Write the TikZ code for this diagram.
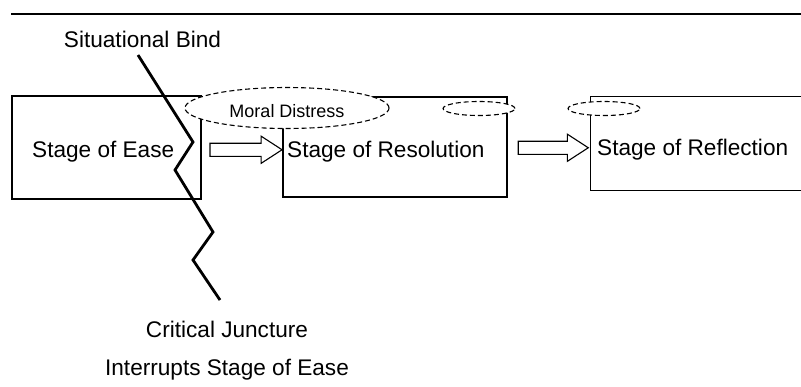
\documentclass[tikz,border=0pt]{standalone}
\usepackage{fontspec}
\setmainfont{Liberation Sans}
\usetikzlibrary{shapes.geometric,shapes.arrows,calc}
\begin{document}
\begin{tikzpicture}[x=1bp,y=-1bp,
  boxline/.style={line width=1.3bp},
  stagebox/.style={draw,boxline,rectangle,inner sep=0pt},
  stagetext/.style={inner sep=0pt,anchor=base west,font=\fontsize{22.6bp}{27bp}\selectfont},
  caption/.style={inner sep=0pt,anchor=base,font=\fontsize{22.6bp}{27bp}\selectfont},
  bubble/.style={ellipse,draw,fill=white,line width=1.1bp,dash pattern=on 5bp off 3bp,inner sep=0pt},
  blockarrow/.style={single arrow,draw,line width=1.1bp,inner xsep=0pt,inner ysep=6bp,
    single arrow head extend=7bp,single arrow tip angle=66},
  bind/.style={line width=2.8bp,line join=miter}]
\useasboundingbox (0,0) rectangle (801,386);
% top rule
\coordinate (r0) at (11,14);
\coordinate (r1) at (801,14);
\draw[line width=2bp] (r0) -- (r1);
% stage boxes
\node[stagebox,minimum width=189bp,minimum height=103bp] (b1) at (106.5,147.5) {};
\node[stagebox,minimum width=224bp,minimum height=100bp] (b2) at (395,147) {};
\node[inner sep=0pt,minimum width=210bp,minimum height=93bp] (b3) at (696,143.5) {};
\draw[boxline] (b3.north east) -- (b3.north west) -- (b3.south west) -- (b3.south east);
% stage texts
\node[stagetext] (t1) at (32,157) {Stage of Ease};
\node[stagetext] (t2) at (287,157) {Stage of Resolution};
\node[stagetext] (t3) at (597,155) {Stage of Reflection};
% block arrows
\node[blockarrow,minimum height=72bp] (a1) at ($($(b1.east)!0.5!(b2.west)$)+(-1,2.5)$) {};
\node[blockarrow,minimum height=70bp] (a2) at ($($(b2.east)!0.5!(b3.west)$)+(-1,2.5)$) {};
% ellipses
\node[bubble,minimum width=204bp,minimum height=41bp] (md) at (287,108) {};
\node[inner sep=0pt,anchor=base,font=\fontsize{18bp}{22bp}\selectfont] (mdt) at (287,117) {Moral Distress};
\node[bubble,minimum width=72bp,minimum height=14bp] (e2) at (479,108.5) {};
\node[bubble,minimum width=72bp,minimum height=14bp] (e3) at (604,108.5) {};
% situational bind / critical juncture
\node[caption] (sb) at (142.5,47) {Situational Bind};
\node[caption] (cj) at (227,337) {Critical Juncture};
\node[caption] (ir) at (227,375) {Interrupts Stage of Ease};
\coordinate (z0) at (138,55);
\coordinate (z1) at (193,142);
\coordinate (z2) at (175,170);
\coordinate (z3) at (213,232);
\coordinate (z4) at (193,260);
\coordinate (z5) at (220,300);
\draw[bind] (z0) -- (z1) -- (z2) -- (z3) -- (z4) -- (z5);
\end{tikzpicture}
\end{document}
